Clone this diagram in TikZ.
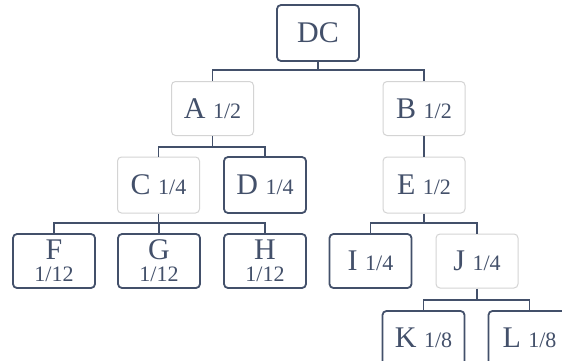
\documentclass[tikz,border=0pt]{standalone}
\usepackage{fontspec}
\setmainfont{Liberation Serif}
\definecolor{ink}{HTML}{43506A}
\definecolor{lightb}{HTML}{D4D4D4}
\begin{document}
\begin{tikzpicture}[x=1pt,y=-1pt,
  box/.style={rectangle,rounded corners=4pt,minimum width=82pt,minimum height=54pt,
    inner sep=1pt,text=ink,font=\fontsize{30}{30}\selectfont,align=center},
  darkbox/.style={box,draw=ink,line width=1.8pt},
  lightbox/.style={box,draw=lightb,line width=1pt},
  conn/.style={draw=ink,line width=1.8pt}]
\newcommand{\sm}[1]{{\fontsize{22}{22}\selectfont #1}}
\fill[white] (0,0) rectangle (562,361);
\useasboundingbox (0,0) rectangle (562,361);
\clip (0,0) rectangle (562,361);
\coordinate (y1) at (0,70);
\coordinate (y2) at (0,147);
\coordinate (y3) at (0,223);
\coordinate (y4) at (0,300);
\node[darkbox,minimum height=56pt] (DC) at (318,33) {DC};
\node[lightbox] (A) at (212.5,108.5) {A \sm{1/2}};
\node[lightbox] (B) at (424,108.5) {B \sm{1/2}};
\node[lightbox,minimum height=56pt] (C) at (158.5,185) {C \sm{1/4}};
\node[darkbox,minimum height=56pt] (D) at (265,185) {D \sm{1/4}};
\node[lightbox,minimum height=56pt] (E) at (424,185) {E \sm{1/2}};
\node[darkbox] (F) at (54,261) {F\\[-8pt]\sm{1/12}};
\node[darkbox] (G) at (159,261) {G\\[-8pt]\sm{1/12}};
\node[darkbox] (H) at (265,261) {H\\[-8pt]\sm{1/12}};
\node[darkbox] (I) at (370.5,261) {I \sm{1/4}};
\node[lightbox] (J) at (477,261) {J \sm{1/4}};
\node[darkbox] (K) at (423.5,338) {K \sm{1/8}};
\node[darkbox] (L) at (529.5,338) {L \sm{1/8}};
\draw[conn] (DC.south) -- (DC.south |- y1);
\draw[conn] (A.north) |- (y1 -| B.north) -- (B.north);
\draw[conn] (A.south) -- (A.south |- y2);
\draw[conn] (C.north) |- (y2 -| D.north) -- (D.north);
\draw[conn] (B.south) -- (E.north);
\draw[conn] (C.south) -- (C.south |- y3);
\draw[conn] (F.north) |- (y3 -| H.north) -- (H.north);
\draw[conn] (G.north) -- (G.north |- y3);
\draw[conn] (E.south) -- (E.south |- y3);
\draw[conn] (I.north) |- (y3 -| J.north) -- (J.north);
\draw[conn] (J.south) -- (J.south |- y4);
\draw[conn] (K.north) |- (y4 -| L.north) -- (L.north);
\end{tikzpicture}
\end{document}
